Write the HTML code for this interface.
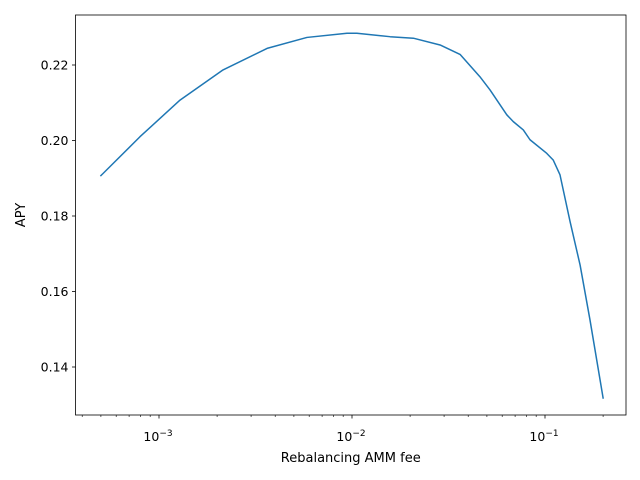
<!DOCTYPE html>
<html><head><meta charset="utf-8"><style>
html,body{margin:0;padding:0;background:#fff;}
svg{display:block;font-family:"DejaVu Sans","Liberation Sans",sans-serif;}
</style></head><body>
<svg id="chart" width="640" height="480">
<rect width="640" height="480" fill="#fff"/>
<g id="plot"></g>
</svg>
<script>
const fees = [0.0005,0.000797,0.001285,0.002147,0.00363,0.00584,0.00942,0.0106,0.01574,0.0208,0.0286,0.0363,0.046,0.0519,0.0634,0.0685,0.0772,0.0836,0.1021,0.1104,0.1196,0.1349,0.152,0.171,0.2];
const apy = [0.1907,0.2010,0.2107,0.2187,0.2244,0.2273,0.2284,0.2284,0.2275,0.2271,0.2253,0.2228,0.2169,0.2134,0.2068,0.2050,0.2028,0.2002,0.1966,0.1948,0.1909,0.1785,0.167,0.1525,0.1318];
const yTicks = [0.14,0.16,0.18,0.20,0.22];
const yTickLabels = ["0.14","0.16","0.18","0.20","0.22"];
const xDecades = [-3,-2,-1];
const xTickLabels = ["10","10","10"];

const L=75.5,R=626,T=15,B=415;
const NS="http://www.w3.org/2000/svg";
const g=document.getElementById('plot');
function xs(f){return 352+193*Math.log10(f/0.01);}
function ys(v){return 65+(0.22-v)*3775;}
function mk(tag,attrs,parent){const e=document.createElementNS(NS,tag);for(const k in attrs)e.setAttribute(k,attrs[k]);(parent||g).appendChild(e);return e;}

let d='';
fees.forEach((f,i)=>{d+=(i?'L':'M')+xs(f).toFixed(2)+','+ys(apy[i]).toFixed(2);});
const line=mk('path',{d:d,fill:'none',stroke:'#1f77b4','stroke-width':1.5,'stroke-linejoin':'round','stroke-linecap':'square'});



const fr=mk('rect',{x:L,y:T,width:R-L,height:B-T,fill:'none',stroke:'#000','stroke-width':0.8});



yTicks.forEach((v,i)=>{
  const y=ys(v);
  mk('line',{x1:L-3.5,x2:L,y1:y,y2:y,stroke:'#000','stroke-width':0.8});
  const t=mk('text',{x:L-7,y:y+4.5,'text-anchor':'end','font-size':12.5,fill:'#000'});
  t.textContent=yTickLabels[i];
  
  
});
for(let e=-4;e<=0;e++){
  for(let m=1;m<10;m++){
    const f=m*Math.pow(10,e);const x=xs(f);
    if(x<L||x>R)continue;
    mk('line',{x1:x,x2:x,y1:B,y2:B+(m===1?3.5:2),stroke:'#000','stroke-width':m===1?0.8:0.6});
  }
}
xDecades.forEach((e,i)=>{
  const x=xs(Math.pow(10,e));
  const t=mk('text',{x:x-1,y:B+26,'text-anchor':'middle','font-size':12.5,fill:'#000'});
  t.textContent=xTickLabels[i];
  const s=mk('tspan',{dy:-5,'font-size':9},t);
  s.textContent='\u2212'+(-e);
  
  
});
const xt=mk('text',{x:(L+R)/2,y:B+47,'text-anchor':'middle','font-size':13,fill:'#000'});
xt.textContent='Rebalancing AMM fee';


const yt=mk('text',{x:0,y:0,'text-anchor':'middle','font-size':13,fill:'#000',transform:'translate(25,'+((T+B)/2)+') rotate(-90)'});
yt.textContent='APY';


</script>
</body></html>
